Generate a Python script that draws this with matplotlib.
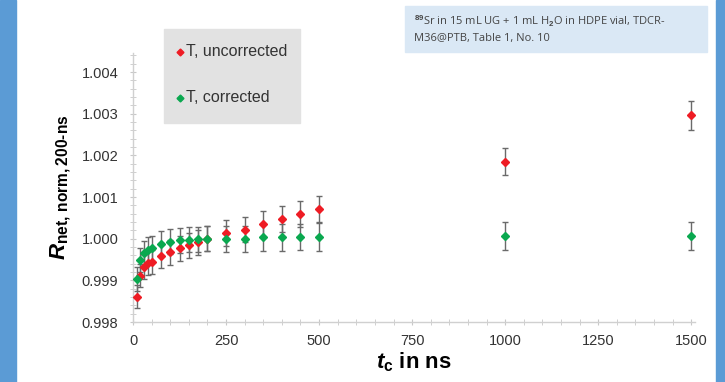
import numpy as np
import matplotlib
matplotlib.use("Agg")
import matplotlib.pyplot as plt
from matplotlib.patches import Rectangle
from matplotlib.lines import Line2D
from matplotlib.ticker import MultipleLocator, FormatStrFormatter

plt.rcParams['font.family'] = ['Liberation Sans', 'DejaVu Sans']
plt.rcParams['mathtext.fontset'] = 'custom'
plt.rcParams['mathtext.rm'] = 'Liberation Sans:bold'
plt.rcParams['mathtext.it'] = 'Liberation Sans:bold:italic'
plt.rcParams['mathtext.bf'] = 'Liberation Sans:bold'

# coincidence resolving time in ns
tc = [10, 20, 30, 40, 50, 75, 100, 125, 150, 175, 200, 250, 300, 350, 400, 450, 500, 1000, 1500]

# T, uncorrected
r_unc = [0.99861, 0.99911, 0.99933, 0.99941, 0.99945, 0.99959, 0.99968, 0.99977, 0.99984,
         0.99992, 1.00000, 1.00013, 1.00022, 1.00035, 1.00047, 1.00059, 1.00071, 1.00185, 1.00296]
err_unc = [0.00028, 0.00028, 0.00029, 0.00029, 0.00029, 0.0003, 0.0003, 0.0003, 0.0003,
           0.0003, 0.0003, 0.00031, 0.00031, 0.00031, 0.00032, 0.00032, 0.00032, 0.00033, 0.00035]

# T, corrected
r_cor = [0.99903, 0.99949, 0.99965, 0.99973, 0.99977, 0.99988, 0.99993, 0.99996, 0.99997,
         0.99999, 1.00000, 1.00000, 1.00000, 1.00003, 1.00003, 1.00004, 1.00004, 1.00006, 1.00006]
err_cor = [0.00028, 0.00029, 0.00029, 0.0003, 0.0003, 0.0003, 0.0003, 0.0003, 0.0003,
           0.0003, 0.0003, 0.00031, 0.00031, 0.00032, 0.00032, 0.00032, 0.00033, 0.00033, 0.00033]

red = '#ee1c24'
green = '#0aa84f'

fig = plt.figure(figsize=(7.25, 3.82), dpi=100)
fig.patch.set_facecolor('white')

# blue side bands
fig.add_artist(Rectangle((0, 0), 16 / 725, 1, transform=fig.transFigure, color='#5b9bd5', zorder=0))
fig.add_artist(Rectangle((716 / 725, 0), 9 / 725, 1, transform=fig.transFigure, color='#5b9bd5', zorder=0))

ax = fig.add_axes([133 / 725, 60 / 382, 562 / 725, 269 / 382])

ax.errorbar(tc, r_cor, yerr=err_cor, fmt='none', ecolor='#6a6a6a', elinewidth=1.0,
            capsize=2.5, capthick=1.0, zorder=2)
ax.errorbar(tc, r_unc, yerr=err_unc, fmt='none', ecolor='#6a6a6a', elinewidth=1.0,
            capsize=2.5, capthick=1.0, zorder=2)
ax.plot(tc, r_unc, 'D', color=red, markersize=4, zorder=3)
ax.plot(tc, r_cor, 'D', color=green, markersize=4, zorder=4)

ax.set_xlim(0, 1510)
ax.set_ylim(0.998, 1.00446)
ax.xaxis.set_major_locator(MultipleLocator(250))
ax.xaxis.set_minor_locator(MultipleLocator(50))
ax.yaxis.set_major_locator(MultipleLocator(0.001))
ax.yaxis.set_minor_locator(MultipleLocator(0.0002))
ax.yaxis.set_major_formatter(FormatStrFormatter('%.3f'))

for s in ['top', 'right']:
    ax.spines[s].set_visible(False)
for s in ['left', 'bottom']:
    ax.spines[s].set_color('#d0d0d0')
    ax.spines[s].set_linewidth(1.0)
ax.tick_params(which='both', direction='inout', color='#c8c8c8', labelcolor='#333333',
               labelsize=10.5)
ax.tick_params(which='major', length=5)
ax.tick_params(which='minor', length=4)
ax.tick_params(axis='y', pad=8)
ax.tick_params(axis='x', pad=6)

ax.set_ylabel(r'$R_{\mathrm{net,\,norm,200}\text{-}\mathrm{ns}}$', fontsize=16, labelpad=6)
ax.set_xlabel(r'$t_{\mathrm{c}}$ in ns', fontsize=16, fontweight='bold', labelpad=2)

# legend box
fig.add_artist(Rectangle((164 / 725, 1 - 123 / 382), 136 / 725, 94 / 382,
                         transform=fig.transFigure, color='#e2e2e2', zorder=1))
fig.text(186 / 725, 1 - 52 / 382, 'T, uncorrected', fontsize=11.5, color='#333333',
         va='center', ha='left', zorder=3)
fig.text(186 / 725, 1 - 98 / 382, 'T, corrected', fontsize=11.5, color='#333333',
         va='center', ha='left', zorder=3)
fig.add_artist(Line2D([180 / 725], [1 - 52 / 382], marker='D', color=red, markersize=3.5,
                      linestyle='none', transform=fig.transFigure, zorder=3))
fig.add_artist(Line2D([180 / 725], [1 - 98 / 382], marker='D', color=green, markersize=3.5,
                      linestyle='none', transform=fig.transFigure, zorder=3))

# info box
fig.add_artist(Rectangle((405 / 725, 1 - 52 / 382), 302 / 725, 46 / 382,
                         transform=fig.transFigure, color='#dae8f5', zorder=1))
fig.text(414 / 725, 1 - 29 / 382,
         '$^{89}$Sr in 15 mL UG + 1 mL H$_2$O in HDPE vial, TDCR-\nM36@PTB, Table 1, No. 10',
         fontsize=8, color='#444444', va='center', ha='left', linespacing=1.5,
         family=['Open Sans', 'DejaVu Sans'], zorder=3)

fig.savefig('out.png', dpi=100)
